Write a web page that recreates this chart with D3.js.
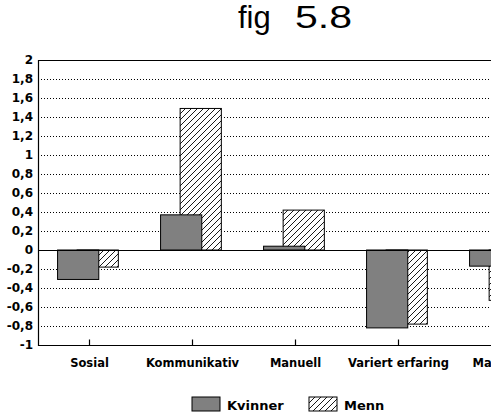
<!DOCTYPE html>
<html>
<head>
<meta charset="utf-8">
<script src="https://cdn.jsdelivr.net/npm/d3@7"></script>
<style>
  body { margin: 0; background: #fff; }
  svg { display: block; }
</style>
</head>
<body>
<svg></svg>
<script>
// data
const categories = ['Sosial', 'Kommunikativ', 'Manuell', 'Variert erfaring', 'Materiell'];
const kvinner = [-0.31, 0.37, 0.04, -0.82, -0.17];
const menn = [-0.18, 1.49, 0.42, -0.78, -0.53];
const yTicks = [-1, -0.8, -0.6, -0.4, -0.2, 0, 0.2, 0.4, 0.6, 0.8, 1, 1.2, 1.4, 1.6, 1.8, 2];
const titleParts = ['fig', '5.8'];

const W = 491, H = 412;
const plot = {l: 38, r: 553, t: 60, b: 345};

var svg = d3.select('svg')
    .attr('width', W)
    .attr('height', H);

// hatch pattern for Menn
var defs = svg.append('defs');
var pat = defs.append('pattern')
    .attr('id', 'hatch')
    .attr('patternUnits', 'userSpaceOnUse')
    .attr('width', 6)
    .attr('height', 6);
pat.append('rect').attr('width', 6).attr('height', 6).attr('fill', '#fff');
pat.append('path')
    .attr('d', 'M0,6 L6,0 M-1,1 L1,-1 M5,7 L7,5')
    .attr('stroke', '#000')
    .attr('stroke-width', 0.9);

// scales
var scaleX = d3.scaleBand()
    .domain(categories)
    .range([plot.l, plot.r]);

var scaleY = d3.scaleLinear()
    .domain([-1, 2])
    .range([plot.b, plot.t]);

var bw = scaleX.bandwidth();
var barW = bw * 0.4;

// title
var titleT = svg.append('text')
    .attr('y', 28)
    .attr('font-family', 'Liberation Sans, Arial, sans-serif')
    .attr('font-size', 31);
titleT.append('tspan')
    .attr('x', 238)
    .text(titleParts[0]);
titleT.append('tspan')
    .attr('x', 295)
    .attr('textLength', 57)
    .attr('lengthAdjust', 'spacingAndGlyphs')
    .text(titleParts[1]);

// dotted grid lines
svg.append('g')
    .selectAll('line')
    .data(yTicks.filter(function(v) { return v !== 0 && v !== 2 && v !== -1; }))
    .join('line')
        .attr('x1', plot.l)
        .attr('x2', W)
        .attr('y1', function(d) { return scaleY(d) + 0.5; })
        .attr('y2', function(d) { return scaleY(d) + 0.5; })
        .attr('stroke', '#000')
        .attr('stroke-width', 1)
        .attr('stroke-dasharray', '1,2');

// y axis labels
var yAxis = d3.axisLeft(scaleY)
    .tickValues(yTicks)
    .tickSize(0)
    .tickPadding(5)
    .tickFormat(function(d) { return String(d).replace('.', ','); });

var yAxisG = svg.append('g')
    .attr('transform', `translate(${plot.l},0)`)
    .call(yAxis);
yAxisG.select('.domain').remove();
yAxisG.selectAll('text')
    .attr('font-family', 'DejaVu Sans, sans-serif')
    .attr('font-weight', 'bold')
    .attr('font-size', 12)
    .attr('fill', '#000');

// bars: Menn behind, Kvinner in front
svg.append('g')
    .selectAll('rect')
    .data(categories)
    .join('rect')
        .attr('x', function(d) { return scaleX(d) + bw * 0.38; })
        .attr('width', barW)
        .attr('y', function(d, i) { return scaleY(Math.max(0, menn[i])); })
        .attr('height', function(d, i) { return Math.abs(scaleY(menn[i]) - scaleY(0)); })
        .attr('fill', 'url(#hatch)')
        .attr('stroke', '#000')
        .attr('stroke-width', 1);

svg.append('g')
    .selectAll('rect')
    .data(categories)
    .join('rect')
        .attr('x', function(d) { return scaleX(d) + bw * 0.19; })
        .attr('width', barW)
        .attr('y', function(d, i) { return scaleY(Math.max(0, kvinner[i])); })
        .attr('height', function(d, i) { return Math.abs(scaleY(kvinner[i]) - scaleY(0)); })
        .attr('fill', '#808080')
        .attr('stroke', '#000')
        .attr('stroke-width', 1);

// frame lines: top, zero, bottom, left
[2, 0, -1].forEach(function(v) {
    svg.append('line')
        .attr('x1', plot.l)
        .attr('x2', W)
        .attr('y1', scaleY(v) + 0.5)
        .attr('y2', scaleY(v) + 0.5)
        .attr('stroke', '#000')
        .attr('stroke-width', 1.2);
});
svg.append('line')
    .attr('x1', plot.l + 0.5)
    .attr('x2', plot.l + 0.5)
    .attr('y1', plot.t)
    .attr('y2', plot.b + 1)
    .attr('stroke', '#000')
    .attr('stroke-width', 1.2);

// x axis: inward ticks and category labels
var xAxis = d3.axisBottom(scaleX)
    .tickSize(-6)
    .tickPadding(13);

var xAxisG = svg.append('g')
    .attr('transform', `translate(0,${plot.b + 0.5})`)
    .call(xAxis);
xAxisG.select('.domain').remove();
xAxisG.selectAll('line').attr('stroke', '#000').attr('stroke-width', 1.2);
xAxisG.selectAll('text')
    .attr('font-family', 'DejaVu Sans, sans-serif')
    .attr('font-weight', 'bold')
    .attr('font-size', 11.5)
    .attr('fill', '#000');

// legend
var legend = [
    {name: 'Kvinner', fill: '#808080', x: 192},
    {name: 'Menn', fill: 'url(#hatch)', x: 309}
];
var lg = svg.append('g')
    .selectAll('g')
    .data(legend)
    .join('g')
        .attr('transform', function(d) { return `translate(${d.x},397)`; });
lg.append('rect')
    .attr('width', 28)
    .attr('height', 14)
    .attr('fill', function(d) { return d.fill; })
    .attr('stroke', '#000')
    .attr('stroke-width', 1);
lg.append('text')
    .attr('x', 35)
    .attr('y', 13)
    .attr('font-family', 'DejaVu Sans, sans-serif')
    .attr('font-weight', 'bold')
    .attr('font-size', 13)
    .text(function(d) { return d.name; });
</script>
</body>
</html>
